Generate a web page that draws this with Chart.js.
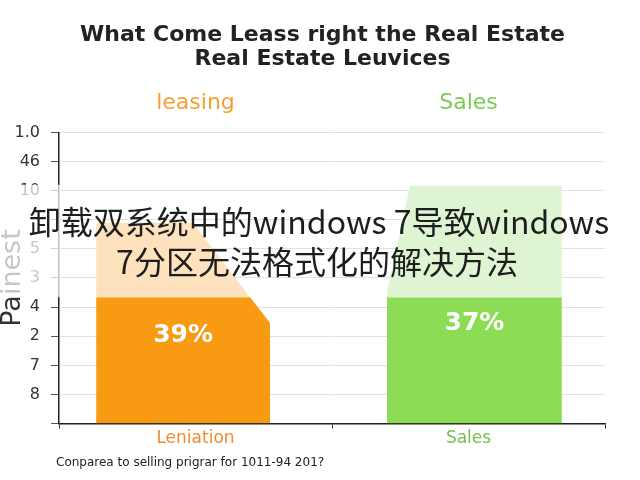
<!DOCTYPE html>
<html>
<head>
<meta charset="utf-8">
<script src="https://cdn.jsdelivr.net/npm/chart.js@4.4.1/dist/chart.umd.min.js"></script>
<style>
  html, body { margin: 0; padding: 0; background: #ffffff; }
  #wrap { width: 640px; height: 480px; }
</style>
</head>
<body>
<div id="wrap"><canvas id="c" width="640" height="480"></canvas></div>
<script>
// ---- data ----
const titleLines = ['What Come Leass right the Real Estate', 'Real Estate Leuvices'];
const categories = ['Leniation', 'Sales'];
const headerLabels = ['leasing', 'Sales'];
const yTickLabels = ['', '8', '7', '2', '4', '3', '5', '', '10', '46', '1.0'];
const yTitle = 'Painest';
const percentLabels = ['39%', '37%'];
const footerText = 'Conparea to selling prigrar for 1011-94 201?';
const overlayLines = ['卸载双系统中的windows 7导致windows', '7分区无法格式化的解决方法'];

// shape outlines, in axis units (x: 0..2 across both categories, y: 0..10)
const leasingSolidX = [0.136, 0.700, 0.773];
const leasingSolidY = [4.34, 4.34, 3.45];
const leasingLightX = [0.136, 0.490, 0.700];
const leasingLightY = [6.90, 6.90, 4.34];
const salesSolidX = [1.2015, 1.842];
const salesSolidY = [4.34, 4.34];
const salesLightX = [1.2015, 1.2857, 1.842];
const salesLightY = [4.52, 8.17, 8.17];
const lightBase = 4.34;
const bandTop = 8.2;

const orange = '#F89A12';
const orangeLight = '#FDE2BD';
const green = '#8DDC55';
const greenLight = '#DFF4D2';
const FONT = '"DejaVu Sans", Verdana, sans-serif';

function pts(xs, ys) { return xs.map((x, i) => ({ x: x, y: ys[i] })); }

const shape = (data, color, fill) => ({
  type: 'line', xAxisID: 'xl', yAxisID: 'y', data: data,
  fill: fill, backgroundColor: color, borderColor: color, borderWidth: 0,
  pointRadius: 0, pointHoverRadius: 0, tension: 0
});

const datasets = [
  shape(pts(leasingLightX, leasingLightY), orangeLight, { value: lightBase }),
  shape(pts(salesLightX, salesLightY), greenLight, { value: lightBase }),
  shape(pts(leasingSolidX, leasingSolidY), orange, 'origin'),
  shape(pts(salesSolidX, salesSolidY), green, 'origin')
];
const solidIndex = [2, 3];
const percentOffsets = [38, 26];

const decor = {
  id: 'decor',
  afterLayout(chart) {
    // the reference title sits centred over the plot, not the canvas
    if (chart.titleBlock) { chart.titleBlock.left = 40; }
  },
  afterDatasetsDraw(chart) {
    const ctx = chart.ctx;
    ctx.save();
    ctx.fillStyle = '#ffffff';
    ctx.font = 'bold 25px ' + FONT;
    ctx.textAlign = 'center';
    ctx.textBaseline = 'middle';
    solidIndex.forEach((di, i) => {
      const p = chart.getDatasetMeta(di).data;
      const cx = (p[0].x + p[p.length - 1].x) / 2;
      ctx.fillText(percentLabels[i], cx, p[0].y + percentOffsets[i]);
    });
    ctx.restore();
  },
  afterDraw(chart) {
    const ctx = chart.ctx;
    const ca = chart.chartArea;
    const ys = chart.scales.y;
    ctx.save();
    // washed band over the left axis region
    const t = ys.getPixelForValue(bandTop);
    const b = ys.getPixelForValue(lightBase);
    ctx.fillStyle = 'rgba(255,255,255,0.72)';
    ctx.fillRect(0, t, ca.left + 1.5, b - t);
    // footer note
    ctx.fillStyle = '#222';
    ctx.font = '12px ' + FONT;
    ctx.textAlign = 'left';
    ctx.textBaseline = 'middle';
    ctx.fillText(footerText, ca.left - 3, 463);
    // overlay caption
    ctx.font = '32px "Noto Sans CJK SC", sans-serif';
    ctx.textAlign = 'center';
    ctx.fillStyle = '#1e1e1e';
    ctx.fillText(overlayLines[0], 319, 222);
    ctx.fillText(overlayLines[1], 317, 262);
    ctx.restore();
  }
};

new Chart(document.getElementById('c'), {
  data: { datasets: datasets },
  options: {
    responsive: false,
    animation: false,
    events: [],
    layout: { padding: { left: 10, right: 35, top: 0, bottom: 31 } },
    plugins: {
      legend: { display: false },
      tooltip: { enabled: false },
      title: {
        display: true,
        text: titleLines,
        color: '#222',
        font: { family: FONT, size: 22, weight: 'bold', lineHeight: 1.09 },
        padding: { top: 23, bottom: 11 }
      }
    },
    scales: {
      xl: { type: 'linear', min: 0, max: 2, display: false },
      x: {
        type: 'category', labels: categories, position: 'bottom', offset: true,
        grid: { display: true, drawOnChartArea: false, offset: true, tickLength: 5, color: '#333' },
        border: { color: '#222', width: 1.5 },
        ticks: {
          color: ['#EE8C2E', '#72C04F'], padding: 0,
          font: { family: FONT, size: 17 }
        }
      },
      xTop: {
        type: 'category', labels: headerLabels, position: 'top', offset: true,
        grid: { display: false }, border: { display: false },
        ticks: {
          color: ['#F5A033', '#7CCB52'], padding: 8,
          font: { family: FONT, size: 22 }
        }
      },
      y: {
        type: 'linear', min: 0, max: 10,
        afterFit: (scale) => { scale.width = 49; },
        ticks: {
          stepSize: 1, color: '#333', padding: 11,
          font: { family: FONT, size: 16 },
          callback: (v) => yTickLabels[v]
        },
        grid: { color: '#e2e2e2', tickColor: '#555', tickLength: 8 },
        border: { color: '#222', width: 1.5 },
        title: {
          display: true, text: yTitle, color: '#333',
          padding: { top: -10.5, bottom: 0 },
          font: { family: FONT, size: 27, lineHeight: 1 }
        }
      }
    }
  },
  plugins: [decor]
});
</script>
</body>
</html>
